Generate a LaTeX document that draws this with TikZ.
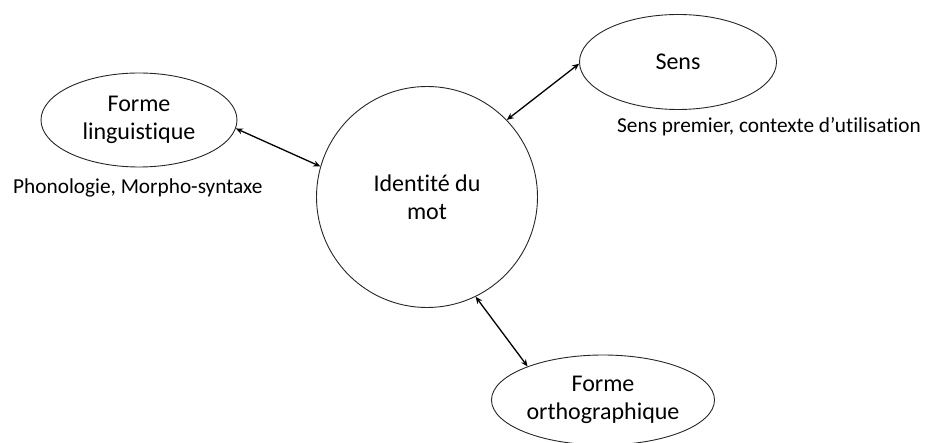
\documentclass[tikz,border=0pt]{standalone}
\usepackage{fontspec}
\setmainfont{Carlito}[Ligatures={NoCommon,NoRequired,NoContextual}]
\usetikzlibrary{shapes.geometric,arrows.meta}
\begin{document}
\begin{tikzpicture}[x=1pt,y=-1pt,
  oval/.style={draw=black!85,line width=0.9pt,ellipse,inner sep=0pt,align=center,
    font=\fontsize{24}{28}\selectfont},
  bubble/.style={draw=black!85,line width=0.9pt,circle,inner sep=0pt,align=center,
    font=\fontsize{24}{28}\selectfont,minimum size=221pt},
  link/.style={line width=1.3pt,{Stealth[length=7pt,width=6pt]}-{Stealth[length=7pt,width=6pt]}},
  note/.style={font=\fontsize{21.3}{25}\selectfont,inner sep=0pt}]
\useasboundingbox (0,0) rectangle (929,443);
\node[oval,minimum width=196pt,minimum height=94pt] (fl) at (139,120) {Forme\\linguistique};
\node[oval,minimum width=197pt,minimum height=95pt] (sens) at (678,62) {Sens};
\node[bubble] (id) at (427,197) {Identité du\\mot};
\node[oval,minimum width=223pt,minimum height=90pt] (fo) at (603,400) {Forme\\orthographique};
\node[note,anchor=west] (n1) at (13,188) {Phonologie, Morpho-syntaxe};
\node[note,anchor=west] (n2) at (617,127) {Sens premier, contexte d’utilisation};
\draw[link] (fl.-5) -- (id.164);
\draw[link] (id.44) -- (sens.181);
\draw[link] (id.-64) -- (fo.156);
\end{tikzpicture}
\end{document}
